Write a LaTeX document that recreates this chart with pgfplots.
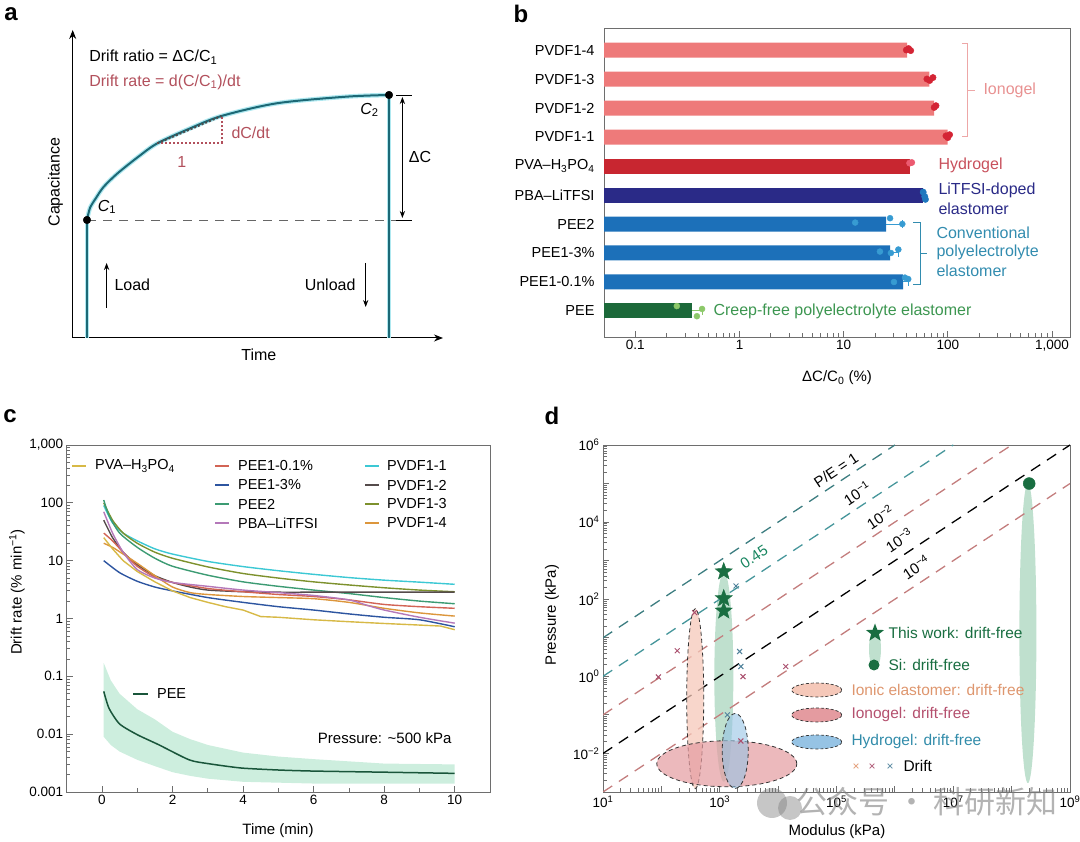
\documentclass[border=0pt]{standalone}
\usepackage{fontspec}
\setmainfont{Liberation Sans}
\newfontfamily\cjk{Noto Sans CJK SC}
\usepackage{pgfplots}
\pgfplotsset{compat=1.18}
\usetikzlibrary{arrows.meta,shapes.geometric}

\definecolor{framec}{RGB}{110,110,110}
\definecolor{tealA}{RGB}{28,105,118}
\definecolor{haloA}{RGB}{175,232,240}
\definecolor{roseA}{RGB}{178,80,92}
\definecolor{salmonB}{RGB}{238,122,122}
\definecolor{redB}{RGB}{200,38,48}
\definecolor{navyB}{RGB}{42,42,135}
\definecolor{blueB}{RGB}{28,112,185}
\definecolor{greenB}{RGB}{28,105,58}
\definecolor{dotR}{RGB}{212,36,52}
\definecolor{dotP}{RGB}{236,90,112}
\definecolor{dotN}{RGB}{30,120,190}
\definecolor{dotB}{RGB}{55,155,210}
\definecolor{dotG}{RGB}{140,200,105}
\definecolor{ionoT}{RGB}{232,145,145}
\definecolor{hydroT}{RGB}{200,80,92}
\definecolor{convT}{RGB}{50,140,175}
\definecolor{creepT}{RGB}{60,150,80}
\definecolor{cPVA}{RGB}{215,185,70}
\definecolor{cPEEa}{RGB}{210,100,85}
\definecolor{cPEEb}{RGB}{45,85,160}
\definecolor{cPEE2}{RGB}{60,155,115}
\definecolor{cPBA}{RGB}{180,120,185}
\definecolor{cPV1}{RGB}{60,200,212}
\definecolor{cPV2}{RGB}{85,75,75}
\definecolor{cPV3}{RGB}{125,145,45}
\definecolor{cPV4}{RGB}{220,150,60}
\definecolor{cPEE}{RGB}{25,85,58}
\definecolor{bandC}{RGB}{205,238,222}
\definecolor{dTeal}{RGB}{60,125,128}
\definecolor{dTeal2}{RGB}{70,150,155}
\definecolor{dPink}{RGB}{195,125,125}
\definecolor{dGreen}{RGB}{25,110,65}
\definecolor{gBand}{RGB}{180,218,198}
\definecolor{peachE}{RGB}{245,200,185}
\definecolor{ionoE}{RGB}{228,155,160}
\definecolor{hydroE}{RGB}{150,195,228}
\definecolor{peachT}{RGB}{222,150,110}
\definecolor{ionoT2}{RGB}{180,80,110}
\definecolor{hydroT2}{RGB}{50,140,170}
\definecolor{xPe}{RGB}{225,150,110}
\definecolor{xRe}{RGB}{170,80,110}
\definecolor{xBl}{RGB}{80,130,155}

\pgfdeclareplotmark{fstar}{%
  \pgfpathmoveto{\pgfpointpolar{90}{\pgfplotmarksize}}%
  \pgfpathlineto{\pgfpointpolar{126}{0.42\pgfplotmarksize}}%
  \pgfpathlineto{\pgfpointpolar{162}{\pgfplotmarksize}}%
  \pgfpathlineto{\pgfpointpolar{198}{0.42\pgfplotmarksize}}%
  \pgfpathlineto{\pgfpointpolar{234}{\pgfplotmarksize}}%
  \pgfpathlineto{\pgfpointpolar{270}{0.42\pgfplotmarksize}}%
  \pgfpathlineto{\pgfpointpolar{306}{\pgfplotmarksize}}%
  \pgfpathlineto{\pgfpointpolar{342}{0.42\pgfplotmarksize}}%
  \pgfpathlineto{\pgfpointpolar{18}{\pgfplotmarksize}}%
  \pgfpathlineto{\pgfpointpolar{54}{0.42\pgfplotmarksize}}%
  \pgfpathclose\pgfusepathqfillstroke}

\pgfplotsset{
  myaxis/.style={scale only axis, anchor=south west,
    axis line style={draw=framec, line width=0.9pt},
    every tick/.style={draw=framec, line width=0.8pt},
    major tick length=6pt, minor tick length=3.5pt,
    tick label style={font=\fontsize{13.5}{15}\selectfont},
    /pgf/number format/assume math mode=true},
}

\begin{document}
\begin{tikzpicture}[font=\fontsize{15}{17}\selectfont]
\useasboundingbox (0,0) rectangle (1080pt,842pt);

%%%%%%%%%%%%%%%% panel a
\begin{axis}[scale only axis, anchor=south west, at={(72.7pt,504pt)}, width=370.3pt, height=308pt,
  xmin=72.7, xmax=443, ymin=-338, ymax=-30, axis lines*=left,
  axis line style={line width=1pt, black, -{Stealth[length=9pt,width=7pt]}},
  xtick=\empty, ytick=\empty, clip=false, font=\fontsize{16}{18}\selectfont]
\addplot[smooth, haloA, line width=4.5pt] coordinates {(87,-220)(90,-208)(96,-198)(103.8,-186.7)(117.6,-173.3)(138.4,-156.7)(157.4,-143.3)(190.3,-128.3)(221.5,-116)(276.8,-103.3)(346,-96.7)(389,-95)};
\addplot[haloA, line width=4.5pt] coordinates {(87,-338)(87,-220)};
\addplot[haloA, line width=4.5pt] coordinates {(389,-338)(389,-95)};
\addplot[dashed, black!60, dash pattern=on 9pt off 7pt, line width=0.9pt] coordinates {(87,-220)(412,-220)};
\addplot[smooth, tealA, line width=2pt] coordinates {(87,-220)(90,-208)(96,-198)(103.8,-186.7)(117.6,-173.3)(138.4,-156.7)(157.4,-143.3)(190.3,-128.3)(221.5,-116)(276.8,-103.3)(346,-96.7)(389,-95)};
\addplot[tealA, line width=2pt] coordinates {(87,-338)(87,-220)};
\addplot[tealA, line width=2pt] coordinates {(389,-338)(389,-95)};
\addplot[roseA, line width=2pt, dotted] coordinates {(157.4,-143.3)(221.5,-143.3)(221.5,-116)};
\addplot[black!70, line width=2pt, dotted] coordinates {(157.4,-143.3)(221.5,-116)};
\addplot[only marks, mark=*, mark size=3.8pt, black] coordinates {(87,-220)(389,-95)};
\draw[line width=0.9pt] (axis cs:396,-95) -- (axis cs:412,-95);
\draw[line width=0.9pt] (axis cs:396,-220) -- (axis cs:412,-220);
\draw[line width=0.9pt, {Stealth[length=7pt]}-{Stealth[length=7pt]}] (axis cs:402.4,-97) -- (axis cs:402.4,-218);
\node[anchor=west] at (axis cs:85.8,-57) {Drift ratio = ΔC/C\textsubscript{1}};
\node[anchor=west, text=roseA] at (axis cs:85.8,-82) {Drift rate = d(C/C\textsubscript{1})/dt};
\node at (axis cs:107,-207) {\textit{C}\textsubscript{1}};
\node at (axis cs:369.5,-110) {\textit{C}\textsubscript{2}};
\node[anchor=west, text=roseA] at (axis cs:228,-133) {dC/dt};
\node[text=roseA] at (axis cs:181.7,-162) {1};
\node at (axis cs:420,-157) {ΔC};
\draw[line width=0.9pt, -{Stealth[length=7pt]}] (axis cs:106.6,-308) -- (axis cs:106.6,-263);
\node[anchor=west] at (axis cs:111,-285) {Load};
\node[anchor=east] at (axis cs:359,-285) {Unload};
\draw[line width=0.9pt, -{Stealth[length=7pt]}] (axis cs:365.7,-263) -- (axis cs:365.7,-307);
\node[rotate=90] at (axis cs:55.4,-182) {Capacitance};
\node at (axis cs:258.8,-355) {Time};
\end{axis}

%%%%%%%%%%%%%%%% panel b
\begin{axis}[myaxis, at={(604pt,505pt)}, width=466pt, height=309pt,
  xmode=log, log origin x=infty, xmin=0.05, xmax=1490, ymin=0.1034, ymax=10.76,
  xbar, bar width=15pt,
  xtick={0.1,1,10,100,1000}, xticklabels={0.1,1,10,100,{1,000}}, xtick pos=left,
  ytick={1,...,10},
  yticklabels={PEE, PEE1-0.1\%, PEE1-3\%, PEE2, PBA–LiTFSI, PVA–H\textsubscript{3}PO\textsubscript{4}, PVDF1-1, PVDF1-2, PVDF1-3, PVDF1-4},
  ytick style={draw=none}, ytick pos=left,
  yticklabel style={font=\fontsize{14.5}{16}\selectfont}]
\addplot[fill=salmonB, draw=none, bar shift=0pt] coordinates {(99.5,7)(74,8)(66.4,9)(40.6,10)};
\addplot[fill=redB, draw=none, bar shift=0pt] coordinates {(43.4,6)};
\addplot[fill=navyB, draw=none, bar shift=0pt] coordinates {(58,5)};
\addplot[fill=blueB, draw=none, bar shift=0pt] coordinates {(37.3,2)(27.9,3)(25.5,4)};
\addplot[fill=greenB, draw=none, bar shift=0pt] coordinates {(0.349,1)};
% error bars
\addplot[sharp plot, dotB, line width=1pt, mark=|, mark size=4pt, mark indices={2}] coordinates {(25.5,4)(36.6,4)};
\addplot[sharp plot, dotB, line width=1pt, mark=|, mark size=4pt, mark indices={2}] coordinates {(27.9,3)(33.5,3)};
\addplot[sharp plot, dotB, line width=1pt, mark=|, mark size=4pt, mark indices={2}] coordinates {(37.3,2)(41.7,2)};
\addplot[sharp plot, dotG, line width=1pt, mark=|, mark size=4pt, mark indices={2}] coordinates {(0.349,1)(0.437,1)};
% dots
\addplot[only marks, mark=*, mark size=3.2pt, dotR] coordinates {(40,10)(42,10.05)(44,9.98)(63,9)(67,8.95)(72,9.05)(74,8.02)(77,8.08)(96,7.04)(100,6.98)(104,7.08)};
\addplot[only marks, mark=*, mark size=3.2pt, dotP] coordinates {(43,6.1)(45,6.12)};
\addplot[only marks, mark=*, mark size=3.2pt, dotN] coordinates {(58,5.1)(60,4.95)(61,4.85)};
\addplot[only marks, mark=*, mark size=3pt, dotB] coordinates {(12.9,4.05)(27.9,4.2)(36.6,4.0)(22.3,3.05)(28.4,3.0)(33.5,3.12)(30.4,2.0)(38.8,2.15)(41.7,2.1)};
\addplot[only marks, mark=*, mark size=3pt, dotG] coordinates {(0.25,1.17)(0.437,1.07)(0.39,0.82)};
\end{axis}

%%%%%%%%%%%%%%%% panel c
\begin{axis}[myaxis, at={(66.7pt,50pt)}, width=423.3pt, height=347pt,
  xmin=-1, xmax=11, ymode=log, ymin=1e-3, ymax=1e3,
  xtick={0,2,...,10}, minor xtick={1,3,...,9}, xtick pos=left, ytick pos=left,
  ytick={1e-3,1e-2,1e-1,1,10,100,1000}, yticklabels={0.001,0.01,0.1,1,10,100,{1,000}},
  every axis plot/.append style={tension=0.4}]
\addplot[fill=bandC, draw=none] coordinates {(0.05,0.17)(0.25,0.085)(0.5,0.05)(1,0.027)(1.5,0.018)(2,0.011)(2.5,0.0082)(3,0.0065)(4,0.0048)(5,0.0041)(6,0.0037)(8,0.0031)(10,0.003)(10,0.0014)(8,0.0014)(6,0.0014)(4,0.0015)(3,0.0017)(2.5,0.0019)(2,0.0022)(1.5,0.0028)(1,0.0036)(0.5,0.005)(0.25,0.0065)(0.05,0.009)};
\addplot[smooth, cPV1, line width=1.4pt] coordinates {(0.05,90)(0.3,45)(0.6,30)(1,22)(1.5,16)(2,13)(3,9.7)(4,7.9)(5,6.7)(6,5.8)(7,5.1)(8,4.6)(9,4.25)(10,3.9)};
\addplot[smooth, cPV3, line width=1.4pt] coordinates {(0.05,100)(0.3,50)(0.6,30)(1,20)(1.5,14)(2,11)(3,7.8)(4,6.0)(5,5.0)(6,4.3)(7,3.8)(8,3.4)(9,3.1)(10,2.9)};
\addplot[smooth, cPEE2, line width=1.4pt] coordinates {(0.05,112)(0.2,60)(0.5,30)(1,17)(1.5,11)(2,8)(3,5.6)(4,4.3)(5,3.6)(6,3.1)(7,2.7)(8,2.3)(9,2.0)(10,1.8)};
\addplot[smooth, cPV2, line width=1.4pt] coordinates {(0.05,50)(0.3,25)(0.6,14)(1,8.5)(1.5,5.5)(2,4.2)(2.5,3.5)(3,3.1)(4,2.9)(5,2.85)(6,2.85)(8,2.85)(10,2.85)};
\addplot[smooth, cPEEa, line width=1.4pt] coordinates {(0.05,30)(0.3,22)(0.6,14)(1,8)(1.5,5.2)(2,4.2)(3,3.3)(4,2.9)(5,2.6)(6,2.4)(7,2.1)(8,1.75)(9,1.6)(10,1.5)};
\addplot[smooth, cPV4, line width=1.4pt] coordinates {(0.05,20)(0.3,17)(0.6,13)(1,9)(1.5,5.5)(2,3.5)(2.5,2.8)(3,2.6)(4,2.4)(5,2.3)(6,2.2)(7,1.9)(8,1.5)(9,1.25)(10,1.1)};
\addplot[smooth, cPBA, line width=1.4pt] coordinates {(0.05,70)(0.3,30)(0.6,14)(1,7)(1.5,5)(2,4.2)(3,3.6)(4,3.1)(5,2.8)(6,2.5)(7,2.1)(7.5,1.7)(8,1.4)(9,1.05)(10,0.83)};
\addplot[smooth, cPEEb, line width=1.4pt] coordinates {(0.05,10)(0.5,6.2)(1,4.4)(1.5,3.5)(2,3.0)(3,2.3)(4,1.9)(5,1.6)(6,1.4)(7,1.2)(8,1.05)(9,0.95)(10,0.72)};
\addplot[cPVA, line width=1.4pt] coordinates {(0.05,25)(0.3,16)(0.6,10)(1,6.5)(1.5,4.3)(2,3.0)(2.5,2.3)(3,1.9)(3.5,1.6)(4,1.4)(4.5,1.08)(5,1.05)(6,0.95)(7,0.88)(8,0.82)(9,0.77)(9.6,0.74)(10,0.64)};
\addplot[smooth, cPEE, line width=1.5pt] coordinates {(0.05,0.055)(0.2,0.028)(0.5,0.015)(1,0.0098)(1.6,0.0066)(2.47,0.0036)(3,0.0031)(3.94,0.0026)(5,0.0024)(6,0.0023)(8,0.0022)(10,0.0021)};
\end{axis}

%%%%%%%%%%%%%%%% panel d
\begin{axis}[myaxis, at={(603pt,50pt)}, width=467pt, height=347pt,
  xmode=log, ymode=log, xmin=10, xmax=1e9, ymin=1e-3, ymax=1e6,
  xtick={1e1,1e2,1e3,1e4,1e5,1e6,1e7,1e8,1e9},
  xticklabels={10\textsuperscript{1},,10\textsuperscript{3},,10\textsuperscript{5},,10\textsuperscript{7},,10\textsuperscript{9}},
  ytick={1e-3,1e-2,1e-1,1,1e1,1e2,1e3,1e4,1e5,1e6},
  yticklabels={,10\textsuperscript{−2},,10\textsuperscript{0},,10\textsuperscript{2},,10\textsuperscript{4},,10\textsuperscript{6}},
  xtick pos=left, ytick pos=left]
\fill[gBand, opacity=0.85] (axis cs:1175,0.977) ellipse [x radius=9.5pt, y radius=105pt];
\fill[gBand, opacity=0.85] (axis cs:1.9e8,13.2) ellipse [x radius=8.5pt, y radius=150pt];
\addplot[dTeal, line width=1.3pt, dash pattern=on 11pt off 8pt] coordinates {(10,10)(1e6,1e6)};
\addplot[dTeal2, line width=1.3pt, dash pattern=on 11pt off 8pt] coordinates {(10,1)(1e7,1e6)};
\addplot[dPink, line width=1.3pt, dash pattern=on 11pt off 8pt] coordinates {(10,0.1)(1e8,1e6)};
\addplot[black, line width=1.3pt, dash pattern=on 11pt off 8pt] coordinates {(10,0.01)(1e9,1e6)};
\addplot[dPink, line width=1.3pt, dash pattern=on 11pt off 8pt] coordinates {(10,0.001)(1e9,1e5)};
\filldraw[fill=peachE, fill opacity=0.75, draw=black!80, dash pattern=on 4pt off 3pt, line width=0.8pt] (axis cs:380,0.263) ellipse [x radius=8.5pt, y radius=90pt];
\filldraw[fill=ionoE, fill opacity=0.7, draw=black!80, dash pattern=on 4pt off 3pt, line width=0.8pt] (axis cs:1320,0.0054) ellipse [x radius=70pt, y radius=23pt];
\filldraw[fill=hydroE, fill opacity=0.6, draw=black!80, dash pattern=on 4pt off 3pt, line width=0.8pt] (axis cs:1840,0.0116) ellipse [x radius=13pt, y radius=37.5pt];
\addplot[only marks, mark=x, mark size=3.5pt, line width=1pt, xRe] coordinates {(89,0.96)(187,4.6)(371,45)(2500,0.98)(13500,1.8)(2300,0.021)};
\addplot[only marks, mark=x, mark size=3.5pt, line width=1pt, xBl] coordinates {(1900,220)(2190,4.4)(2300,1.8)(1350,0.1)};
\addplot[only marks, mark=fstar, mark size=9pt, dGreen] coordinates {(1170,520)(1170,105)(1170,50)};
\addplot[only marks, mark=*, mark size=6pt, dGreen] coordinates {(2e8,1e5)};
\end{axis}

%%%%%%%%%%%%%%%% annotations (pixel coordinates, y downwards)
\begin{scope}[x=1pt, y=-1pt, shift={(0pt,842pt)}]
% panel letters
\node[font=\fontsize{24}{26}\selectfont\bfseries] at (11,14) {a};
\node[font=\fontsize{24}{26}\selectfont\bfseries] at (521,14) {b};
\node[font=\fontsize{24}{26}\selectfont\bfseries] at (10,416) {c};
\node[font=\fontsize{24}{26}\selectfont\bfseries] at (552,416) {d};
% panel b
\draw[ionoT!80, line width=0.9pt] (962,43) -- (967,43) -- (967,136) -- (962,136);
\draw[ionoT!80, line width=0.9pt] (967,90) -- (975,90);
\node[anchor=west, text=ionoT, font=\fontsize{16}{18}\selectfont] at (980,90) {Ionogel};
\node[anchor=west, text=hydroT, font=\fontsize{16}{18}\selectfont] at (935,165) {Hydrogel};
\node[anchor=west, text=navyB, font=\fontsize{16}{18}\selectfont] at (935,190) {LiTFSI-doped};
\node[anchor=west, text=navyB, font=\fontsize{16}{18}\selectfont] at (935,209) {elastomer};
\draw[convT, line width=0.9pt] (913,222) -- (920,222) -- (920,284) -- (913,284);
\draw[convT, line width=0.9pt] (920,253) -- (927,253);
\node[anchor=west, text=convT, font=\fontsize{16}{18}\selectfont] at (933,233) {Conventional};
\node[anchor=west, text=convT, font=\fontsize{16}{18}\selectfont] at (933,252) {polyelectrolyte};
\node[anchor=west, text=convT, font=\fontsize{16}{18}\selectfont] at (933,271) {elastomer};
\node[anchor=west, text=creepT, font=\fontsize{16}{18}\selectfont] at (710,311) {Creep-free polyelectrolyte elastomer};
\node at (837,378) {ΔC/C\textsubscript{0} (\%)};
% panel c
\node[rotate=90] at (17,592) {Drift rate (\% min\textsuperscript{−1})};
\node at (278,831) {Time (min)};
\begin{scope}[font=\fontsize{14.5}{16}\selectfont, line width=1.5pt]
\draw[cPVA] (72,466) -- (86,466); \node[anchor=west] at (91,466) {PVA–H\textsubscript{3}PO\textsubscript{4}};
\draw[cPEEa] (215,466) -- (229,466); \node[anchor=west] at (234,466) {PEE1-0.1\%};
\draw[cPEEb] (215,485) -- (229,485); \node[anchor=west] at (234,485) {PEE1-3\%};
\draw[cPEE2] (215,504) -- (229,504); \node[anchor=west] at (234,504) {PEE2};
\draw[cPBA] (215,523) -- (229,523); \node[anchor=west] at (234,523) {PBA–LiTFSI};
\draw[cPV1] (365,466) -- (379,466); \node[anchor=west] at (383,466) {PVDF1-1};
\draw[cPV2] (365,485) -- (379,485); \node[anchor=west] at (383,485) {PVDF1-2};
\draw[cPV3] (365,504) -- (379,504); \node[anchor=west] at (383,504) {PVDF1-3};
\draw[cPV4] (365,523) -- (379,523); \node[anchor=west] at (383,523) {PVDF1-4};
\draw[cPEE] (133,694) -- (148,694); \node[anchor=west] at (153,694) {PEE};
\end{scope}
\node[anchor=east] at (455,738) {Pressure: \textasciitilde500 kPa};
% panel d
\node[rotate=90] at (552,615) {Pressure (kPa)};
\node at (837,832) {Modulus (kPa)};
\node[rotate=33.6] at (836,470) {P/E = 1};
\node[rotate=33.6] at (857,493) {10\textsuperscript{−1}};
\node[rotate=33.6] at (880,517) {10\textsuperscript{−2}};
\node[rotate=33.6] at (899,540) {10\textsuperscript{−3}};
\node[rotate=33.6] at (916,567) {10\textsuperscript{−4}};
\node[rotate=33.6, text=dGreen!85!cyan] at (754,557) {0.45};
\fill[gBand, opacity=0.85] (875,649) ellipse [x radius=6pt, y radius=20pt];
\node[star, star points=5, star point ratio=2.4, fill=dGreen, minimum size=19pt, inner sep=0pt] at (875,633) {};
\fill[dGreen] (874,665) circle [radius=5.5pt];
\begin{scope}[font=\fontsize{15.5}{17}\selectfont]
\node[anchor=west, text=dGreen] at (885,633) {This work: drift-free};
\node[anchor=west, text=dGreen] at (885,665) {Si: drift-free};
\filldraw[fill=peachE, draw=black!80, dash pattern=on 3pt off 2pt, line width=0.7pt] (816.7,690) ellipse [x radius=25pt, y radius=7pt];
\filldraw[fill=ionoE, draw=black!80, dash pattern=on 3pt off 2pt, line width=0.7pt] (816.7,715) ellipse [x radius=25pt, y radius=7pt];
\filldraw[fill=hydroE, draw=black!80, dash pattern=on 3pt off 2pt, line width=0.7pt] (816.7,742) ellipse [x radius=25pt, y radius=7pt];
\node[anchor=west, text=peachT] at (848,690) {Ionic elastomer: drift-free};
\node[anchor=west, text=ionoT2] at (848,715) {Ionogel: drift-free};
\node[anchor=west, text=hydroT2] at (848,742) {Hydrogel: drift-free};
\node[text=xPe, font=\fontsize{12}{14}\selectfont] at (856,767) {×};
\node[text=xRe, font=\fontsize{12}{14}\selectfont] at (872,767) {×};
\node[text=xBl, font=\fontsize{12}{14}\selectfont] at (890,767) {×};
\node[anchor=west] at (900,766) {Drift};
\end{scope}
% watermark
\fill[gray, opacity=0.45] (772,803) circle [radius=15pt];
\fill[gray, opacity=0.45] (790,808) circle [radius=12pt];
\node[text=gray, opacity=0.6, font=\cjk\fontsize{31}{33}\selectfont] at (927,802) {公众号 · 科研新知};
\end{scope}
\end{tikzpicture}
\end{document}
